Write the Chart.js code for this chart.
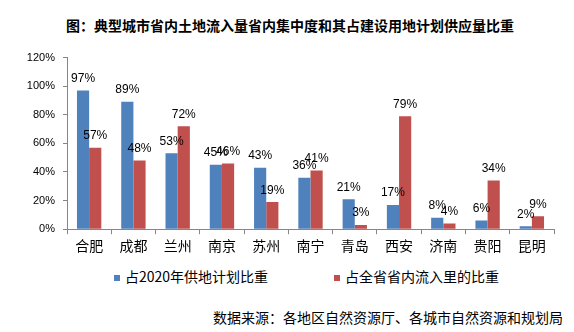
<!DOCTYPE html>
<html>
<head>
<meta charset="utf-8">
<script src="https://cdn.jsdelivr.net/npm/chart.js@4/dist/chart.umd.min.js"></script>
<style>
  body { margin: 0; background: #fff; }
  #wrap { position: relative; width: 574px; height: 332px; font-family: "Noto Sans CJK SC", sans-serif; }
  #title { position: absolute; left: 66px; top: 18px; font-size: 14px; line-height: 14px; font-weight: bold; color: #000; white-space: nowrap; }
  #box { position: absolute; left: 0; top: 0; width: 574px; height: 257px; }
  #legend { position: absolute; top: 269px; left: 0; width: 574px; font-size: 14px; color: #000; }
  .item { position: absolute; white-space: nowrap; line-height: 14px; }
  .sw { display: inline-block; width: 6px; height: 6px; margin-right: 5px; vertical-align: 1px; }
  #source { position: absolute; right: 11px; top: 310px; font-size: 14px; line-height: 14px; color: #000; white-space: nowrap; }
</style>
</head>
<body>
<div id="wrap">
  <div id="title">图：典型城市省内土地流入量省内集中度和其占建设用地计划供应量比重</div>
  <div id="box"><canvas id="myChart"></canvas></div>
  <div id="legend"></div>
  <div id="source">数据来源：各地区自然资源厅、各城市自然资源和规划局</div>
</div>
<script>
// 城市
const cities = ['合肥', '成都', '兰州', '南京', '苏州', '南宁', '青岛', '西安', '济南', '贵阳', '昆明']
// 占2020年供地计划比重 (%)
const planShare = [97, 89, 53, 45, 43, 36, 21, 17, 8, 6, 2]
// 占全省省内流入量的比重 (%)
const provShare = [57, 48, 72, 46, 19, 41, 3, 79, 4, 34, 9]
const seriesNames = ['占2020年供地计划比重', '占全省省内流入里的比重']
const colors = ['#4F81BD', '#C0504D']

// 柱子上方的百分比标签
const barLabels = {
  id: 'barLabels',
  afterDatasetsDraw(chart) {
    const ctx = chart.ctx
    ctx.save()
    ctx.font = '12px "Liberation Sans", Arial, sans-serif'
    ctx.fillStyle = '#000'
    ctx.textAlign = 'center'
    ctx.textBaseline = 'alphabetic'
    chart.data.datasets.forEach((ds, i) => {
      chart.getDatasetMeta(i).data.forEach((bar, j) => {
        ctx.fillText(ds.data[j] + '%', bar.x, bar.y - 8.5)
      })
    })
    ctx.restore()
  }
}

const context = document.getElementById('myChart')

const myChart = new Chart(context, {
  type: 'bar',
  data: {
    labels: cities,
    datasets: [
      { label: seriesNames[0], data: planShare, backgroundColor: colors[0] },
      { label: seriesNames[1], data: provShare, backgroundColor: colors[1] }
    ]
  },
  options: {
    responsive: true,
    maintainAspectRatio: false,
    animation: false,
    layout: { padding: { top: 57.5, right: 20, bottom: 0, left: 0 } },
    datasets: { bar: { categoryPercentage: 0.55, barPercentage: 1 } },
    plugins: {
      legend: { display: false },
      tooltip: { enabled: false }
    },
    scales: {
      x: {
        grid: { drawOnChartArea: false, color: '#868686', tickLength: 5 },
        border: { color: '#868686' },
        ticks: { color: '#000', padding: 3, font: { size: 14, family: '"Noto Sans CJK SC"' } }
      },
      y: {
        min: 0,
        max: 120,
        afterFit(scale) { scale.width = 67 },
        grid: { drawOnChartArea: false, color: '#868686', tickLength: 4 },
        border: { color: '#868686' },
        ticks: {
          stepSize: 20,
          color: '#000',
          padding: 8,
          font: { size: 11, family: '"Liberation Sans", Arial' },
          callback: v => v + '%'
        }
      }
    }
  },
  plugins: [barLabels]
})

// 图例
const legend = document.getElementById('legend')
const legendX = [114, 334]
seriesNames.forEach((name, i) => {
  const el = document.createElement('div')
  el.className = 'item'
  el.style.left = legendX[i] + 'px'
  el.innerHTML = '<span class="sw" style="background:' + colors[i] + '"></span>' + name
  legend.appendChild(el)
})
</script>
</body>
</html>
